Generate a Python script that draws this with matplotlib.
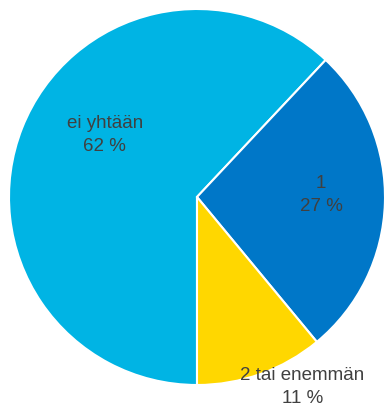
import matplotlib
matplotlib.use('Agg')
import matplotlib.pyplot as plt

labels = ['ei yhtään', '1', '2 tai enemmän']
values = [62, 27, 11]
colors = ['#00B4E4', '#0077C8', '#FFD700']
label_pos = [(-0.49, 0.33), (0.66, 0.01), (0.56, -1.01)]

fig = plt.figure(figsize=(3.85, 4.07), dpi=100)
ax = fig.add_axes([9 / 385, 22 / 407, 376 / 385, 376 / 407])

ax.pie(values, colors=colors, startangle=-90, counterclock=False,
       wedgeprops=dict(edgecolor='white', linewidth=1.5))

for lab, v, (x, y) in zip(labels, values, label_pos):
    ax.text(x, y, '%s\n%d %%' % (lab, v), ha='center', va='center',
            fontsize=13.5, color='#404040', family='Liberation Sans',
            linespacing=1.5)

ax.set_xlim(-1, 1)
ax.set_ylim(-1, 1)
ax.set_aspect('equal')
ax.axis('off')

fig.savefig('out.png', dpi=100)
